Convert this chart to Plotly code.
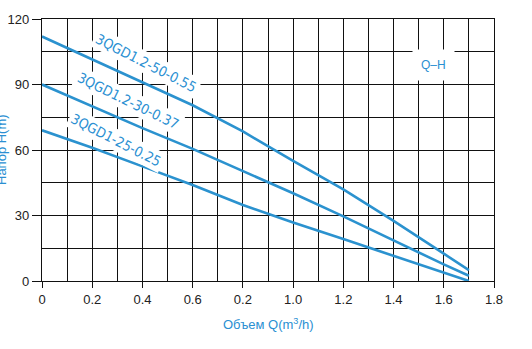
import plotly.graph_objects as go

# Flow rate Q (m³/h) sample points shared by all pump curves
flow = [0, 0.2, 0.4, 0.6, 0.8, 1.0, 1.2, 1.4, 1.6, 1.7]

# Head H (m) for each pump model
head_50_055 = [112, 101.5, 91, 80.5, 68.5, 55, 42, 27.5, 12.5, 5]
head_30_037 = [90, 80, 70, 60.5, 50.5, 40.2, 29.6, 18.5, 7.6, 2.4]
head_25_025 = [69, 61, 52.5, 44, 34.8, 26.8, 19.2, 11.5, 4, 0]

models = ["3QGD1.2-50-0.55", "3QGD1.2-30-0.37", "3QGD1-25-0.25"]
heads = [head_50_055, head_30_037, head_25_025]

# Label anchor points (Q, H) and rotation for each curve name
label_q = [0.415, 0.345, 0.295]
label_h = [100.0, 82.5, 64.8]
label_angle = [27, 26, 27]

x_tickvals = [0, 0.2, 0.4, 0.6, 0.8, 1.0, 1.2, 1.4, 1.6, 1.8]
x_ticktext = ["0", "0.2", "0.4", "0.6", "0.2", "1.0", "1.2", "1.4", "1.6", "1.8"]
y_tickvals = [0, 30, 60, 90, 120]

BLUE = "#2b92cf"
TEXT_BLUE = "#2a8fd2"
GRID = "#111111"
LABEL_FONT = "DejaVu Sans Condensed, Liberation Sans Narrow, sans-serif"
PLAIN_FONT = "Liberation Sans, Arial, sans-serif"

fig = go.Figure()
for name, h in zip(models, heads):
    fig.add_trace(go.Scatter(
        x=flow, y=h, mode="lines", name=name,
        line=dict(color=BLUE, width=2.6),
        showlegend=False, hoverinfo="skip",
    ))

for name, q, h, a in zip(models, label_q, label_h, label_angle):
    fig.add_annotation(
        x=q, y=h, xref="x", yref="y", text=name, showarrow=False,
        textangle=a, bgcolor="white", borderpad=2,
        font=dict(family=LABEL_FONT, size=14, color=TEXT_BLUE),
    )

fig.add_annotation(
    x=1.56, y=99.1, xref="x", yref="y", text="Q–H", showarrow=False,
    bgcolor="white", borderpad=8,
    font=dict(family=PLAIN_FONT, size=12, color=TEXT_BLUE),
)

fig.add_annotation(
    xref="paper", yref="paper", x=0.5, y=-0.165, yanchor="middle",
    xanchor="center", text="Объем Q(m<sup>3</sup>/h)", showarrow=False,
    font=dict(family=PLAIN_FONT, size=13, color=TEXT_BLUE),
)

fig.add_annotation(
    xref="paper", yref="paper", x=0, xshift=-41, y=0.5, yanchor="middle",
    xanchor="center", text="Напор H(m)", textangle=-90, showarrow=False,
    font=dict(family=PLAIN_FONT, size=13, color=TEXT_BLUE),
)

axis_common = dict(
    ticks="outside", tickwidth=1.4, tickcolor=GRID,
    showgrid=True, gridcolor=GRID, gridwidth=1.4,
    showline=True, linecolor=GRID, linewidth=1.4, mirror=True,
    zeroline=False, automargin=False,
    tickfont=dict(family=PLAIN_FONT, size=13, color="#222222"),
)

fig.update_xaxes(
    range=[0, 1.8], tickvals=x_tickvals, ticktext=x_ticktext, ticklen=6,
    minor=dict(dtick=0.1, showgrid=True, gridcolor=GRID, gridwidth=1.4, ticks=""),
    **axis_common,
)
fig.update_yaxes(
    range=[0, 120], tickvals=y_tickvals, ticklen=9,
    minor=dict(dtick=15, showgrid=True, gridcolor=GRID, gridwidth=1.4, ticks=""),
    **axis_common,
)

fig.update_layout(
    width=532, height=349,
    margin=dict(l=42, r=38, t=19, b=68),
    paper_bgcolor="white", plot_bgcolor="white",
)

fig.write_html("out.html")
